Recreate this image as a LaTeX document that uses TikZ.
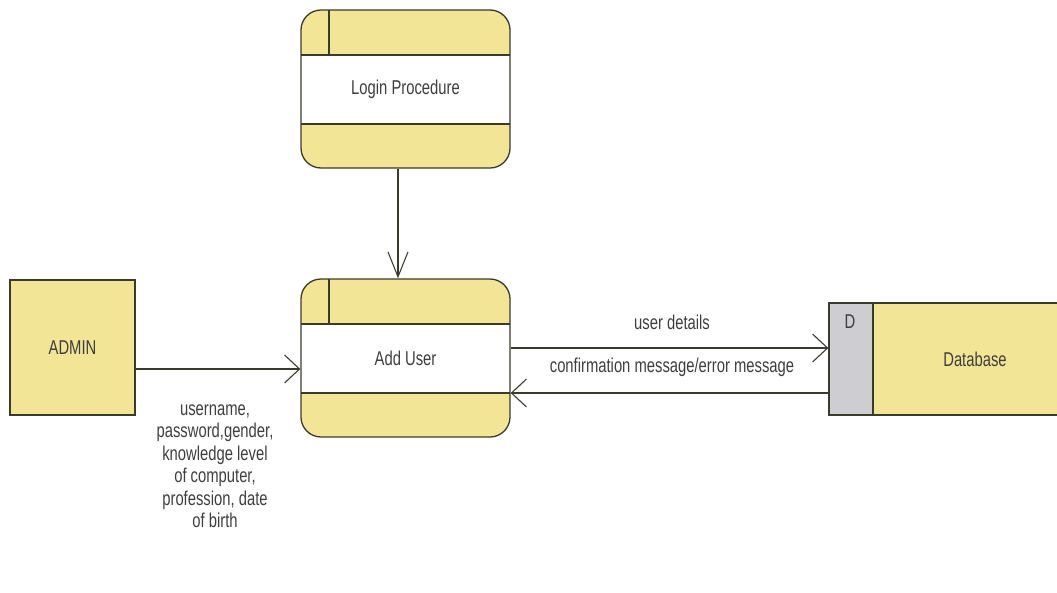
\documentclass[tikz,border=0pt]{standalone}
\usepackage{fontspec}
\setmainfont{Liberation Sans}[FakeStretch=0.74]
\usetikzlibrary{arrows.meta}
\definecolor{boxyellow}{RGB}{242,229,150}
\definecolor{stripgray}{RGB}{206,206,210}
\definecolor{edgec}{RGB}{58,58,45}
\definecolor{textc}{RGB}{62,62,62}
\tikzset{
  every node/.style={font=\fontsize{20}{22.5}\selectfont, text=textc},
  process/.style={draw=edgec, line width=1.3pt, fill=boxyellow, rounded corners=20pt,
    minimum width=209pt, minimum height=158pt, inner sep=0pt,
    path picture={
      \fill[white, sharp corners] ([yshift=-45pt]path picture bounding box.north west)
        rectangle ([yshift=44pt]path picture bounding box.south east);
      \draw[edgec, line width=1.3pt, sharp corners]
        ([yshift=-45pt]path picture bounding box.north west) -- ([yshift=-45pt]path picture bounding box.north east)
        ([yshift=44pt]path picture bounding box.south west) -- ([yshift=44pt]path picture bounding box.south east)
        ([xshift=28pt]path picture bounding box.north west) -- ([xshift=28pt,yshift=-45pt]path picture bounding box.north west);
    }},
  entity/.style={draw=edgec, line width=1.3pt, fill=boxyellow, minimum width=125pt, minimum height=135pt, inner sep=0pt},
  datastore/.style={draw=edgec, line width=1.3pt, fill=boxyellow, minimum width=292pt, minimum height=112pt, inner sep=0pt,
    path picture={
      \fill[stripgray] (path picture bounding box.north west) rectangle ([xshift=44pt]path picture bounding box.south west);
      \draw[edgec, line width=1.3pt] ([xshift=44pt]path picture bounding box.north west) -- ([xshift=44pt]path picture bounding box.south west);
    }},
  flow/.style={draw=edgec, line width=1.1pt, -{Straight Barb[length=15pt,width=28pt,line width=1.1pt]}},
  downflow/.style={flow, -{Straight Barb[length=25pt,width=20pt,line width=1.1pt]}},
}
\begin{document}
\begin{tikzpicture}[x=1pt,y=-1pt]
  \useasboundingbox (0,0) rectangle (1057,592);
  % processes
  \node[process] (login) at (405.5,89) {Login Procedure};
  \node[process] (adduser) at (405.5,358) {Add User};
  % external entity and data store
  \node[entity] (admin) at (72.5,347.5) {ADMIN};
  \node[datastore] (store) at (975,359) {Database};
  \node (dmark) at (850,322) {D};
  % flows
  \draw[downflow] ([xshift=-7.5pt]login.south) -- ([xshift=-7.5pt]adduser.north);
  \draw[flow] (admin.east |- 0,369) -- (adduser.west |- 0,369);
  \draw[flow] (adduser.east |- 0,348) -- (store.west |- 0,348);
  \draw[flow] (store.west |- 0,393) -- (adduser.east |- 0,393);
  % flow labels
  \node (lbldetails) at (672,322) {user details};
  \node (lblconfirm) at (672,367) {confirmation message/error message};
  \node[align=center] (lbladmin) at (215,466) {username,\\password,gender,\\knowledge level\\of computer,\\profession, date\\of birth};
\end{tikzpicture}
\end{document}
